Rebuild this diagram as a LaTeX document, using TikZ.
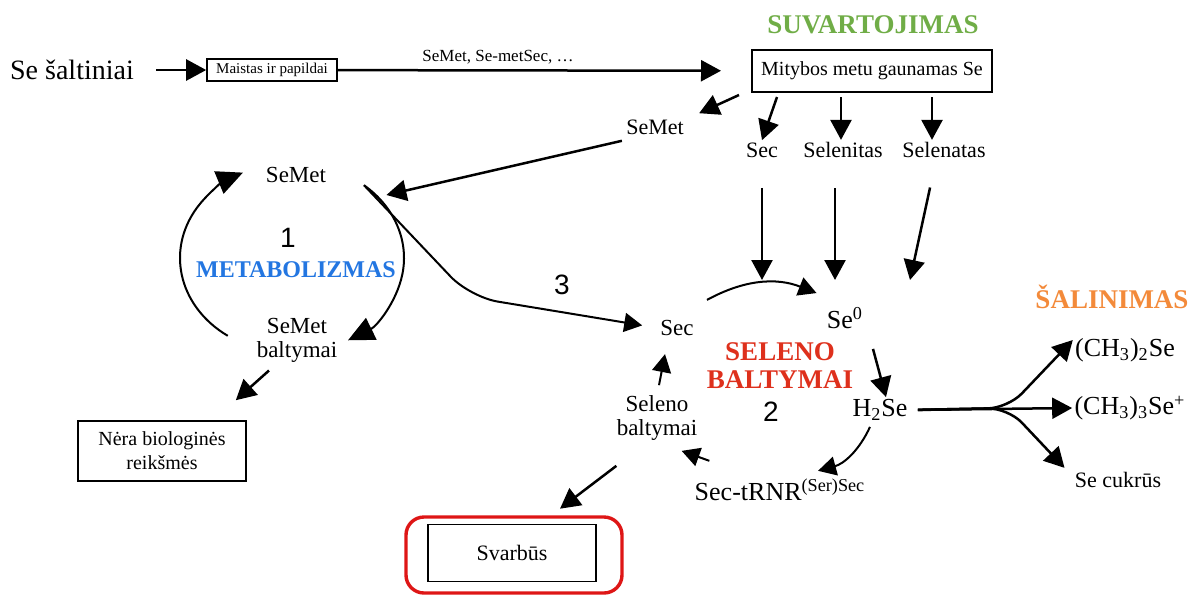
\documentclass[tikz,border=0pt]{standalone}
\usepackage{fontspec}
\setmainfont{Liberation Serif}
\newfontfamily\digitfont{Liberation Sans}
\usetikzlibrary{arrows.meta}

\definecolor{intakegreen}{RGB}{112,173,71}
\definecolor{metblue}{RGB}{35,118,225}
\definecolor{selred}{RGB}{222,48,28}
\definecolor{outorange}{RGB}{243,138,58}
\definecolor{ringred}{RGB}{222,22,22}

\begin{document}
\begin{tikzpicture}[
  x=0.5pt, y=0.5pt,
  lbl/.style={inner sep=1pt, align=center, font=\fontsize{11.5}{12}\selectfont},
  biglbl/.style={inner sep=1pt, align=center, font=\fontsize{13}{14}\selectfont},
  title/.style={inner sep=1pt, align=center, font=\fontsize{13.5}{14}\selectfont\bfseries},
  num/.style={inner sep=1pt, font=\fontsize{14}{16}\selectfont\digitfont},
  smallbox/.style={draw, line width=0.8pt, inner sep=2pt, font=\fontsize{7.5}{9}\selectfont, minimum width=65pt, minimum height=10pt},
  databox/.style={draw, line width=1pt, inner sep=2pt, font=\fontsize{10}{12}\selectfont, minimum width=120pt, minimum height=21pt},
  endbox/.style={draw, line width=0.8pt, inner sep=2pt, align=center, font=\fontsize{10}{12}\selectfont, minimum width=84pt, minimum height=30pt},
  ring/.style={draw=ringred, line width=1.7pt, rounded corners=9pt, minimum width=108pt, minimum height=38pt},
  arrow/.style={-{Triangle[length=10pt, width=10.5pt]}, line width=1.25pt},
  cycarrow/.style={-{Triangle[length=9pt, width=9.5pt]}, line width=1pt},
  bigcyc/.style={-{Triangle[length=13pt, width=12pt]}, line width=1pt}
]
\useasboundingbox (0,0) rectangle (1194,-596);

% ==================== TOP: sources and intake ====================
\node[inner sep=1pt, font=\fontsize{14}{16}\selectfont] (src) at (72,-70) {Se šaltiniai};
\node[smallbox] (food) at (272,-70) {Maistas ir papildai};
\node[inner sep=1pt, font=\fontsize{8.5}{10}\selectfont] (forms) at (498,-57) {SeMet, Se-metSec, \dots};

\node[title, text=intakegreen] (intake) at (873,-25) {SUVARTOJIMAS};
\node[databox] (diet) at (872,-71) {Mitybos metu gaunamas Se};

\node[lbl, font=\fontsize{11}{12}\selectfont] (semetR) at (655,-127) {SeMet};
\node[lbl, font=\fontsize{11}{12}\selectfont] (secT) at (762,-150) {Sec};
\node[lbl, font=\fontsize{11}{12}\selectfont] (selenit) at (843,-150) {Selenitas};
\node[lbl, font=\fontsize{11}{12}\selectfont] (selenat) at (944,-150) {Selenatas};

\draw[arrow, shorten <=10pt] (src) -- (food);
\draw[arrow, shorten >=15pt] (food) -- (diet);
\draw[arrow] ([shift={(-12,-2)}]diet.south west) -- ([shift={(13,4)}]semetR.north east);
\draw[arrow] ([shift={(26,-4)}]diet.south west) -- (secT.north);
\draw[arrow, shorten <=2pt] ([xshift=-1pt]selenit.north |- diet.south) -- ([xshift=-1pt]selenit.north);
\draw[arrow, shorten <=2pt] ([xshift=-6pt]selenat.north |- diet.south) -- ([xshift=-6pt]selenat.north);

% ==================== LEFT: cycle 1 ====================
\node[lbl] (semetL) at (296,-175) {SeMet};
\node[num] (n1) at (288,-238) {1};
\node[title, text=metblue, font=\fontsize{12}{13}\selectfont\bfseries] (metab) at (296,-270) {METABOLIZMAS};
\node[lbl] (bsemet) at (297,-340) {SeMet\\baltymai};
\node[endbox] (nera) at (162,-451) {Nėra biologinės\\reikšmės};

\coordinate (c1) at (292,-258);
\coordinate (c1top) at ([shift={(50:112 and 95)}]c1);
\draw[bigcyc] ([shift={(235:112 and 95)}]c1) arc[start angle=235, end angle=116, x radius=112, y radius=95];
\draw[bigcyc] (c1top) arc[start angle=50, end angle=-60, x radius=112, y radius=95];

\draw[arrow] ([shift={(-2,-4)}]semetR.south west) -- ([shift={(58,-20)}]semetL.east);
\draw[arrow] ([xshift=-14pt,yshift=-3pt]bsemet.south) -- ([shift={(-11,20)}]nera.north east);

% ==================== MIDDLE: cycle 2 ====================
\node[num] (n3) at (562,-285) {3};
\node[lbl] (secM) at (677,-328) {Sec};
\node[biglbl] (se0) at (845,-318) {Se\textsuperscript{0}};
\node[title, text=selred, font=\fontsize{13.5}{14}\selectfont\bfseries] (seleno) at (780,-366) {SELENO\\BALTYMAI};
\node[biglbl] (h2se) at (880,-410) {H\textsubscript{2}Se};
\node[num] (n2) at (771,-412) {2};
\node[biglbl] (trna) at (780,-490) {Sec-tRNR\textsuperscript{(Ser)Sec}};
\node[lbl] (selb) at (657,-418) {Seleno\\baltymai};

\coordinate (bend3) at (470,-297);
\draw[cycarrow, rounded corners=14pt, shorten >=8pt] (c1top) -- (bend3) -- (secM.west);

\coordinate (in1) at (762,-280);
\coordinate (in2) at (835,-280);
\coordinate (in3) at (910,-280);
\draw[arrow, shorten <=14pt] (secT.south) -- (in1);
\draw[arrow, shorten <=14pt] ([xshift=-4pt]selenit.south) -- (in2);
\draw[arrow, shorten <=14pt] ([xshift=-4pt]selenat.south) -- (in3);

\draw[cycarrow] ([shift={(30,18)}]secM.north) to[bend left=25] ([shift={(-8,12)}]se0.north west);
\draw[arrow] ([shift={(28,-18)}]se0.south) -- ([xshift=3pt]h2se.north);
\draw[cycarrow] ([xshift=-5pt,yshift=-2pt]h2se.south) to[bend left=25] ([shift={(38,6)}]trna.north);
\draw[cycarrow] ([shift={(17,16)}]trna.north west) -- ([shift={(-18,-8)}]selb.south east);
\draw[cycarrow] ([xshift=1pt,yshift=4pt]selb.north) -- ([shift={(-12,-16)}]secM.south);

% ==================== BOTTOM: important ====================
\node[endbox, font=\fontsize{11}{12}\selectfont, minimum height=28.5pt] (svarb) at (512,-553) {Svarbūs};
\node[ring] (svarbring) at (514,-555) {};
\draw[arrow] ([shift={(2,-23)}]selb.south west) -- ([shift={(48,15)}]svarb.north);

% ==================== RIGHT: excretion ====================
\node[title, text=outorange] (salin) at (1112,-297) {ŠALINIMAS};
\node[biglbl] (ch2) at (1125,-350) {(CH\textsubscript{3})\textsubscript{2}Se};
\node[biglbl] (ch3) at (1130,-408) {(CH\textsubscript{3})\textsubscript{3}Se\textsuperscript{+}};
\node[lbl, font=\fontsize{11}{12}\selectfont] (sugar) at (1118,-480) {Se cukrūs};

\coordinate (fork) at (1008,-408);
\draw[arrow, shorten <=4pt] (h2se.east) -- (ch3.west);
\draw[arrow, shorten <=4pt, rounded corners=10pt] (h2se.east) -- (fork) -- ([yshift=5pt]ch2.west);
\draw[arrow, shorten <=4pt, rounded corners=10pt] (h2se.east) -- (fork) -- ([shift={(-8,2)}]sugar.north west);

\end{tikzpicture}
\end{document}
